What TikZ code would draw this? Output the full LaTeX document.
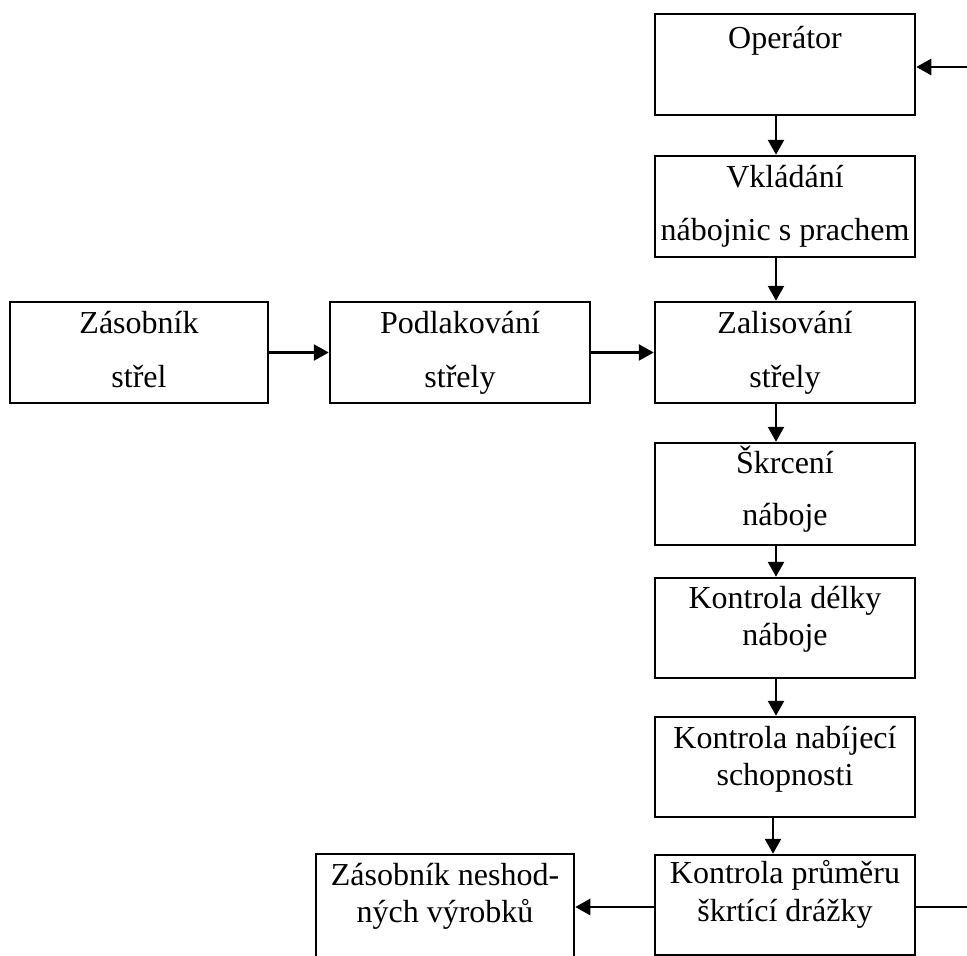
\documentclass[tikz,border=0pt]{standalone}
\usepackage{fontspec}
\setmainfont{Liberation Serif}
\usetikzlibrary{arrows.meta,calc}
\begin{document}
\begin{tikzpicture}[x=1pt,y=-1pt,
  box/.style={draw,line width=2.5pt,rectangle,inner sep=0pt,minimum width=260pt,minimum height=101pt},
  txt/.style={inner sep=0pt,anchor=base,font=\fontsize{32}{37}\selectfont},
  arr/.style={line width=2.5pt,-{Triangle[length=15pt,width=16pt]}},
  ln/.style={line width=2.5pt}]
\useasboundingbox (0,0) rectangle (967,956);
\clip (0,0) rectangle (967,956);
% boxes
\node[box] (op) at (785,64.5) {};
\node[box] (vk) at (785,206.5) {};
\node[box] (za) at (785,352.5) {};
\node[box,minimum height=102pt] (sk) at (785,494) {};
\node[box,minimum height=100pt] (kd) at (785,628) {};
\node[box,minimum height=100pt] (kn) at (785,767) {};
\node[box,minimum height=100pt] (kp) at (785,905) {};
\node[box,minimum width=258pt] (zs) at (139,352.5) {};
\node[box] (pd) at (460,352.5) {};
\node[box,minimum width=258pt,minimum height=150pt] (ns) at (445,929) {};
% texts
\node[txt] (opT) at (785,48) {Operátor};
\node[txt] (vkT1) at (785,187) {Vkládání};
\node[txt] (vkT2) at (785,240) {nábojnic s prachem};
\node[txt] (zaT1) at (785,333) {Zalisování};
\node[txt] (zaT2) at (785,387) {střely};
\node[txt] (zsT1) at (139,333) {Zásobník};
\node[txt] (zsT2) at (139,387) {střel};
\node[txt] (pdT1) at (460,333) {Podlakování};
\node[txt] (pdT2) at (460,387) {střely};
\node[txt] (skT1) at (785,473) {Škrcení};
\node[txt] (skT2) at (785,525) {náboje};
\node[txt] (kdT1) at (785,608) {Kontrola délky};
\node[txt] (kdT2) at (785,645) {náboje};
\node[txt] (knT1) at (785,748) {Kontrola nabíjecí};
\node[txt] (knT2) at (785,785) {schopnosti};
\node[txt] (kpT1) at (785,883) {Kontrola průměru};
\node[txt] (kpT2) at (785,921) {škrtící drážky};
\node[txt] (nsT1) at (445,885) {Zásobník neshod-};
\node[txt] (nsT2) at (445,922) {ných výrobků};
% free ends
\coordinate (inR) at (967,67);
\coordinate (outR) at (967,907);
% connectors
\draw[arr] ([xshift=-9pt]op.south) -- ([xshift=-9pt]vk.north);
\draw[arr] ([xshift=-9pt]vk.south) -- ([xshift=-9pt]za.north);
\draw[arr] ([xshift=-9pt]za.south) -- ([xshift=-9pt]sk.north);
\draw[arr] ([xshift=-9pt]sk.south) -- ([xshift=-9pt]kd.north);
\draw[arr] ([xshift=-9pt]kd.south) -- ([xshift=-9pt]kn.north);
\draw[arr] ([xshift=-12pt]kn.south) -- ([xshift=-12pt]kp.north);
\draw[arr] (zs.east) -- (pd.west);
\draw[arr] (pd.east) -- (za.west);
\draw[arr] (inR) -- (inR -| op.east);
\draw[arr] (outR -| kp.west) -- (outR -| ns.east);
\draw[ln] (outR -| kp.east) -- (outR);
\end{tikzpicture}
\end{document}
